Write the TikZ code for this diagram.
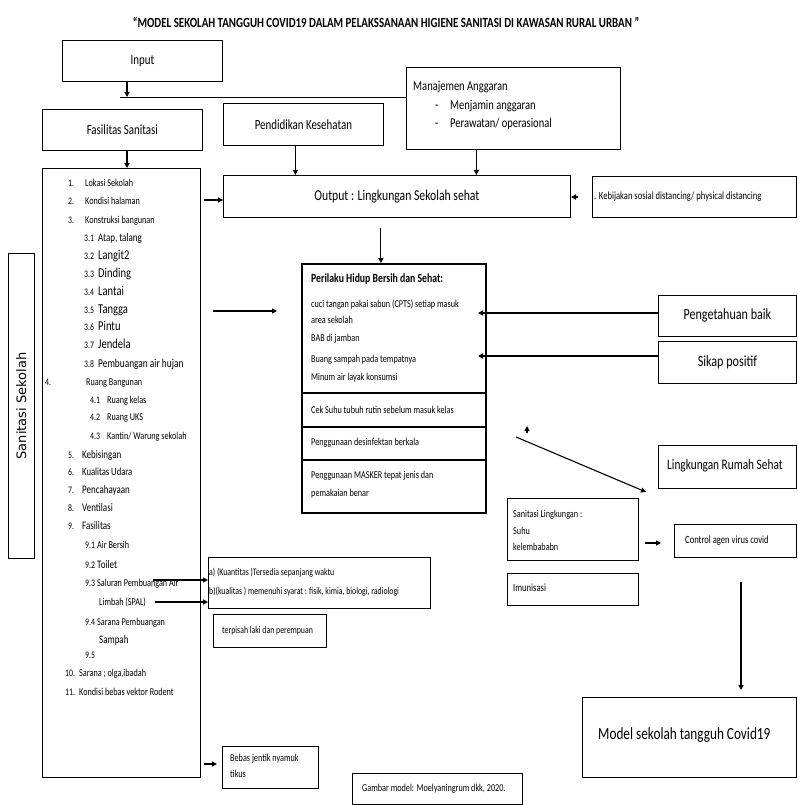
\documentclass[tikz,border=0pt]{standalone}
\usepackage{fontspec}
\setmainfont{Carlito}[FakeStretch=0.78]
\newfontfamily\sidefont{DejaVu Sans}
\usetikzlibrary{arrows.meta}
\newcommand\fsz[1]{\fontsize{#1}{#1}\selectfont}

\begin{document}
\begin{tikzpicture}[x=1pt, y=-1pt,
  box/.style={draw=black, line width=0.8pt, anchor=north west, inner sep=0pt},
  txt/.style={anchor=mid west, inner sep=0pt},
  arr/.style={-{Triangle[length=5pt,width=5pt]}, line width=1.1pt},
]
\useasboundingbox (0,0) rectangle (797,805);

\node[font=\fsz{14}\bfseries] (title) at (386,22)
  {“MODEL SEKOLAH TANGGUH COVID19 DALAM PELAKSSANAAN HIGIENE SANITASI DI KAWASAN RURAL URBAN ”};

% top row
\node[box, minimum width=160pt, minimum height=41pt, font=\fsz{14}] (input) at (62,40) {Input};
\node[box, minimum width=160pt, minimum height=41pt, font=\fsz{14}] (fas) at (42,109) {Fasilitas Sanitasi};
\node[box, minimum width=160pt, minimum height=42pt, font=\fsz{14}] (pend) at (223,103) {Pendidikan Kesehatan};
\node[box, minimum width=214pt, minimum height=82pt] (manaj) at (406,67) {};
\node[txt, font=\fsz{13.5}] (manaj0) at (413,88) {Manajemen Anggaran};
\node[txt, font=\fsz{13.5}] (dash1) at (435,107) {-};
\node[txt, font=\fsz{13.5}] (manaj1) at (450,107) {Menjamin anggaran};
\node[txt, font=\fsz{13.5}] (dash2) at (435,125) {-};
\node[txt, font=\fsz{13.5}] (manaj2) at (450,125) {Perawatan/ operasional};
\node[box, minimum width=347pt, minimum height=42pt, font=\fsz{15}] (output) at (223,175) {Output : Lingkungan Sekolah sehat};
\node[box, minimum width=204pt, minimum height=41pt] (keb) at (592,176) {};
\node[txt, font=\fsz{11}] (kebt) at ([xshift=2pt]keb.west) {. Kebijakan sosial distancing/ physical distancing};

% left column
\node[box, minimum width=26pt, minimum height=305pt] (side) at (8,253) {};
\node[rotate=90, font=\sidefont\fsz{13}] (sidet) at (side.center) {Sanitasi Sekolah};
\node[box, minimum width=158pt, minimum height=609pt] (list) at (42,168) {};
\foreach \yy/\inum/\ix/\itm/\tx/\isz [count=\i] in {
  184/1./68/{Lokasi Sekolah}/85/10.5,
  202/2./68/{Kondisi halaman}/85/10.5,
  221/3./68/{Konstruksi bangunan}/85/10.5,
  239/3.1/84/{Atap, talang}/98/11.5,
  257/3.2/84/{Langit2}/98/13.5,
  275/3.3/84/{Dinding}/98/13.5,
  293/3.4/84/{Lantai}/98/13.5,
  311/3.5/84/{Tangga}/98/13.5,
  328/3.6/84/{Pintu}/98/13.5,
  346/3.7/84/{Jendela}/98/13.5,
  365/3.8/84/{Pembuangan air hujan}/98/12,
  383/4./45/{Ruang Bangunan}/86/10.5,
  401/4.1/90/{Ruang kelas}/107/10.5,
  418/4.2/90/{Ruang UKS}/107/10.5,
  437/4.3/90/{Kantin/ Warung sekolah}/107/10.5,
  456/5./68/{Kebisingan}/82/11.5,
  473/6./68/{Kualitas Udara}/82/11,
  491/7./68/{Pencahayaan}/82/11.5,
  509/8./68/{Ventilasi}/82/11.5,
  527/9./68/{Fasilitas}/82/11.5,
  546/9.1/85/{Air Bersih}/97/10.5,
  566/9.2/85/{Toilet}/97/11.5,
  584/9.3/85/{Saluran Pembuangan Air}/97/10.5,
  603/{}/85/{Limbah (SPAL)}/99/10.5,
  623/9.4/85/{Sarana Pembuangan}/97/10.5,
  641/{}/85/{Sampah}/99/11.5,
  656/9.5/85/{}/97/10.5,
  674/10./65/{Sarana ; olga,ibadah}/79/10.5,
  693/11./65/{Kondisi bebas vektor Rodent}/79/10.5}{
  \node[txt, font=\fsz{10}] (num\i) at (\ix,\yy) {\inum};
  \node[txt, font=\fsz{\isz}] (item\i) at (\tx,\yy) {\itm};
}

% PHBS block
\node[box, line width=1.8pt, minimum width=184pt, minimum height=249pt] (phbs) at (301,263) {};
\foreach \yy in {393,427,460}
  \draw[line width=1.8pt] (301,\yy) -- (485,\yy);
\node[txt, font=\fsz{12.5}\bfseries] (ph0) at (311,280) {Perilaku Hidup Bersih dan Sehat:};
\foreach \yy/\itm [count=\i] in {
  305/{cuci tangan pakai sabun (CPTS) setiap masuk},
  321/{area sekolah},
  339/{BAB di jamban},
  360/{Buang sampah pada tempatnya},
  378/{Minum air layak konsumsi},
  411/{Cek Suhu tubuh rutin sebelum masuk kelas},
  443/{Penggunaan desinfektan berkala},
  476/{Penggunaan MASKER tepat jenis dan},
  494/{pemakaian benar}}
  \node[txt, font=\fsz{10.5}] (ph\i) at (311,\yy) {\itm};

% right side
\node[box, minimum width=138pt, minimum height=41pt, font=\fsz{15.5}] (peng) at (658,295) {Pengetahuan baik};
\node[box, minimum width=138pt, minimum height=42pt, font=\fsz{15.5}] (sikap) at (658,341) {Sikap positif};
\node[box, minimum width=138pt, minimum height=43pt] (lrs) at (658,445) {};
\node[txt, font=\fsz{14.5}] (lrst) at ([xshift=9pt]lrs.west) {Lingkungan Rumah Sehat};
\node[box, minimum width=131pt, minimum height=62pt] (sanl) at (507,498) {};
\node[txt, font=\fsz{10.5}] (sanl0) at (513,515) {Sanitasi Lingkungan :};
\node[txt, font=\fsz{10.5}] (sanl1) at (513,532) {Suhu};
\node[txt, font=\fsz{10.5}] (sanl2) at (513,548) {kelembababn};
\node[box, minimum width=131pt, minimum height=32pt] (imun) at (507,573) {};
\node[txt, font=\fsz{11}] (imunt) at ([xshift=6pt]imun.west) {Imunisasi};
\node[box, minimum width=122pt, minimum height=33pt] (control) at (674,524) {};
\node[txt, font=\fsz{11}] (controlt) at ([xshift=11pt]control.west) {Control agen virus covid};
\node[box, minimum width=214pt, minimum height=80pt] (model) at (582,697) {};
\node[txt, font=\fsz{17}] (modelt) at ([xshift=16pt]model.west) {Model sekolah tangguh Covid19};

% bottom middle
\node[box, minimum width=222pt, minimum height=51pt] (kuan) at (208,557) {};
\node[txt, font=\fsz{10}] (kuan1) at (209,573) {a) (Kuantitas )Tersedia sepanjang waktu};
\node[txt, font=\fsz{10}] (kuan2) at (209,592) {b)(kualitas ) memenuhi syarat : fisik, kimia, biologi, radiologi};
\node[box, minimum width=113pt, minimum height=33pt] (pisah) at (213,614) {};
\node[txt, font=\fsz{10}] (pisaht) at ([xshift=9pt]pisah.west) {terpisah laki dan perempuan};
\node[box, minimum width=96pt, minimum height=42pt] (bebas) at (222,746) {};
\node[txt, font=\fsz{10.5}] (bebas1) at (230,759) {Bebas jentik nyamuk};
\node[txt, font=\fsz{10.5}] (bebas2) at (230,775) {tikus};
\node[box, minimum width=170pt, minimum height=31pt] (gambar) at (352,773) {};
\node[txt, font=\fsz{10.5}] (gambart) at ([xshift=10pt]gambar.west) {Gambar model: Moelyaningrum dkk, 2020.};

% connectors
\coordinate (bus) at (120,97);
\coordinate (inb) at (127,97);
\draw[line width=0.8pt] (bus) -- (bus -| manaj.west);
\draw[arr] (input.south -| inb) -- (inb);
\draw[arr] (fas.south -| inb) -- (inb |- list.north);
\draw[arr] ([xshift=-8pt]pend.south) -- ([xshift=-8pt]pend.south |- output.north);
\draw[arr] ([xshift=-37pt]manaj.south) -- ([xshift=-37pt]manaj.south |- output.north);
\coordinate (lo) at (204,200);
\draw[arr] (lo) -- (lo -| output.west);
\coordinate (kbtip) at (571,197);
\draw[arr] ([xshift=7pt]kbtip) -- (kbtip);
\draw[arr, shorten <=10pt] ([xshift=-16pt]output.south) -- ([xshift=-16pt]output.south |- phbs.north);
\coordinate (lp1) at (213,311);
\coordinate (lp2) at (277,311);
\draw[arr] (lp1) -- (lp2);
\coordinate (pgtip) at (478,313);
\coordinate (sktip) at (478,356);
\draw[arr] (pgtip -| peng.west) -- (pgtip);
\draw[arr] (sktip -| sikap.west) -- (sktip);
\coordinate (dg0) at (527,426);
\coordinate (dg1) at (516,437);
\coordinate (dg2) at (646,492);
\draw[arr] ([yshift=-7pt]dg0) -- (dg0);
\draw[arr] (dg1) -- (dg2);
\coordinate (sc) at (645,543);
\draw[arr] (sc) -- ([xshift=-13pt]sc -| control.west);
\coordinate (cm) at (741,582);
\draw[arr] (cm) -- ([yshift=7pt]cm |- model.north);
\coordinate (k1) at (153,580);
\coordinate (k2) at (155,602);
\draw[arr] (k1) -- (k1 -| kuan.west);
\draw[arr] (k2) -- (k2 -| kuan.west);
\coordinate (bb) at (204,764);
\draw[arr] (bb) -- ([xshift=-5pt]bb -| bebas.west);

\end{tikzpicture}
\end{document}
